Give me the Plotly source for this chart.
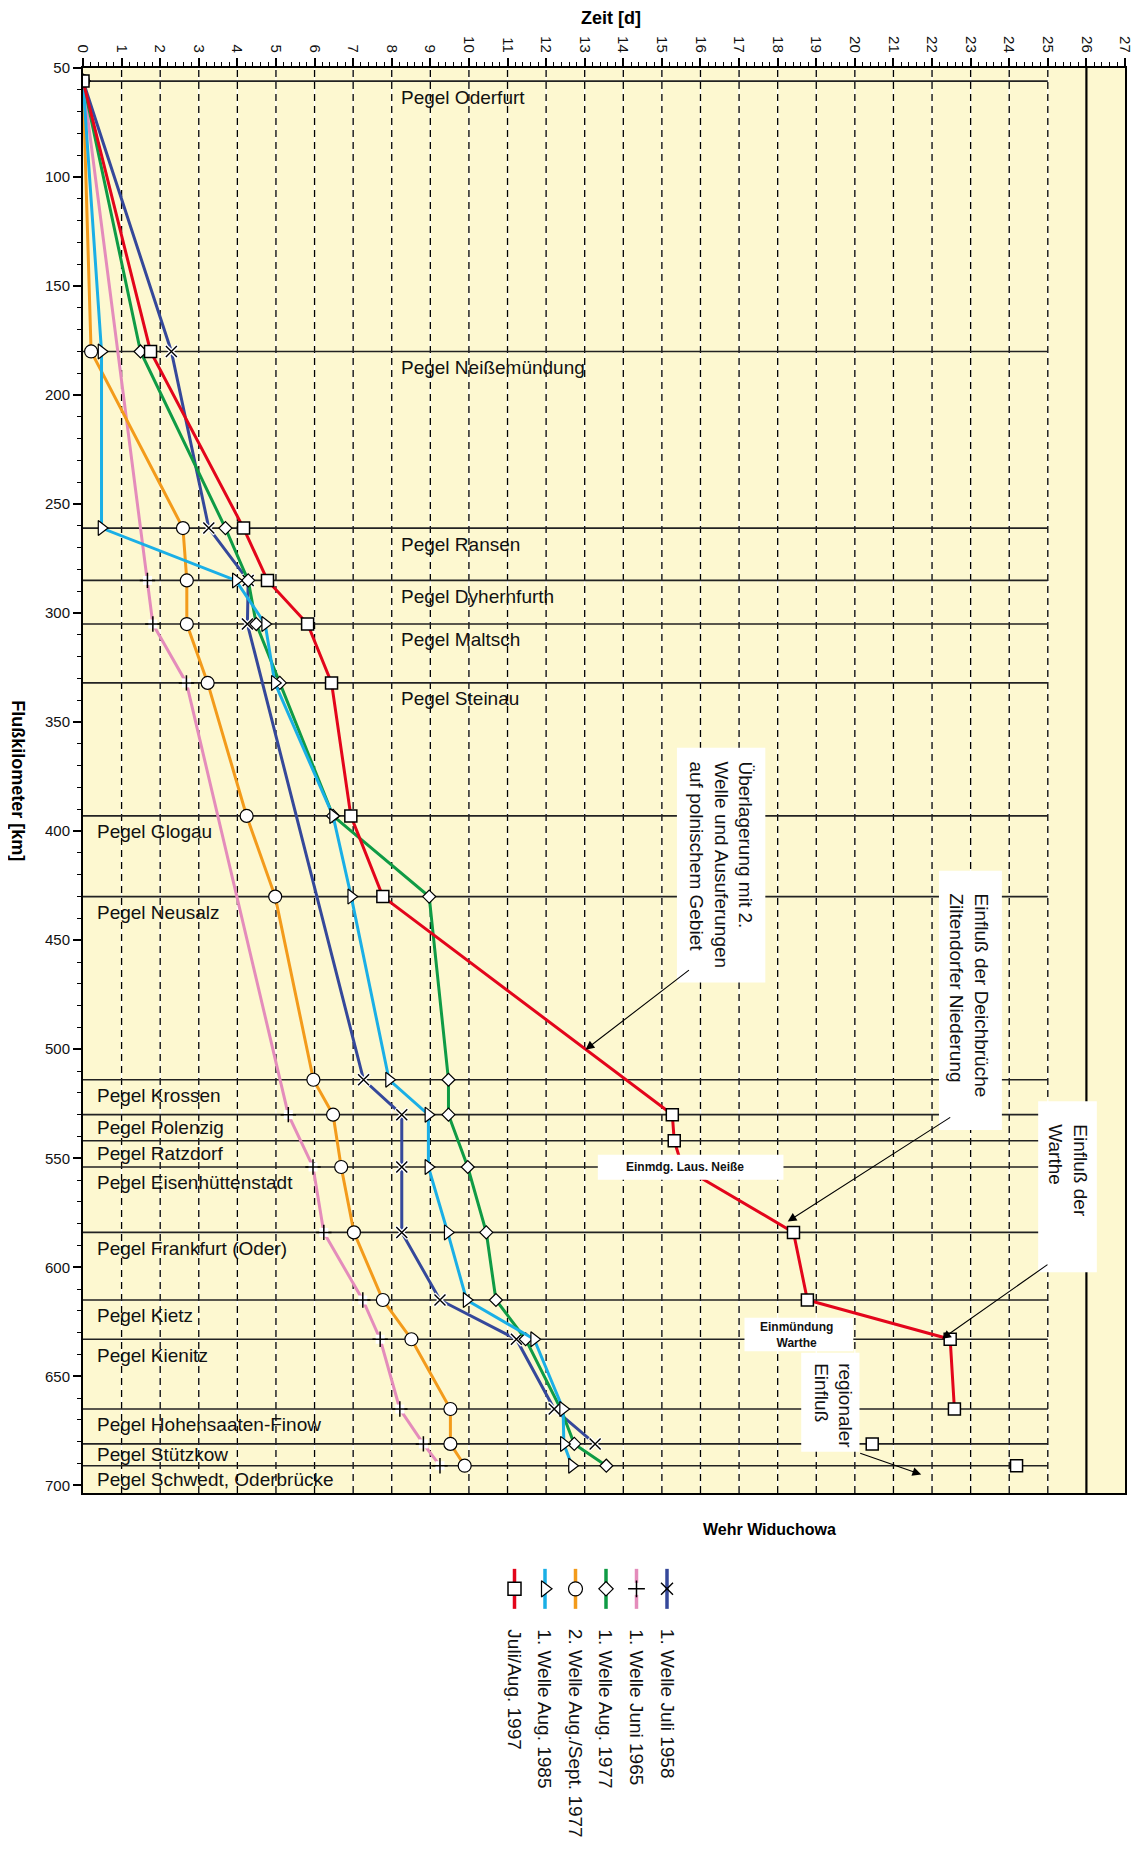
import plotly.graph_objects as go

# ---------------- data ----------------
pegel_names = ["Pegel Oderfurt", "Pegel Neißemündung", "Pegel Ransen", "Pegel Dyhernfurth",
               "Pegel Maltsch", "Pegel Steinau", "Pegel Glogau", "Pegel Neusalz",
               "Pegel Krossen", "Pegel Polenzig", "Pegel Ratzdorf", "Pegel Eisenhüttenstadt",
               "Pegel Frankfurt (Oder)", "Pegel Kietz", "Pegel Kienitz",
               "Pegel Hohensaaten-Finow", "Pegel Stützkow", "Pegel Schwedt, Oderbrücke"]
pegel_km = [56, 180, 261, 285, 305, 332, 393, 430, 514, 530, 542, 554, 584, 615, 633, 665, 681, 691]

series_names = ["1. Welle Juli 1958", "1. Welle Juni 1965", "1. Welle Aug. 1977",
                "2. Welle Aug./Sept. 1977", "1. Welle Aug. 1985", "Juli/Aug. 1997"]

km_1958 = [56, 180, 261, 285, 305, 514, 530, 554, 584, 615, 633, 665, 681]
t_1958 = [0, 2.29, 3.26, 4.28, 4.26, 7.27, 8.26, 8.26, 8.26, 9.25, 11.23, 12.21, 13.27]

km_1965 = [56, 285, 305, 332, 530, 554, 584, 615, 633, 665, 681, 691]
t_1965 = [0, 1.67, 1.81, 2.68, 5.32, 5.96, 6.24, 7.25, 7.70, 8.21, 8.82, 9.25]

km_1977a = [56, 180, 261, 285, 305, 332, 393, 430, 514, 530, 554, 584, 615, 633, 665, 681, 691]
t_1977a = [0, 1.49, 3.69, 4.28, 4.49, 5.10, 6.48, 8.97, 9.47, 9.47, 9.97, 10.45, 10.70, 11.47, 12.38, 12.73, 13.56]

km_1977b = [56, 180, 261, 285, 305, 332, 393, 430, 514, 530, 554, 584, 615, 633, 665, 681, 691]
t_1977b = [0, 0.21, 2.59, 2.69, 2.69, 3.23, 4.24, 4.98, 5.97, 6.48, 6.69, 7.02, 7.77, 8.51, 9.52, 9.52, 9.89]

km_1985 = [56, 180, 261, 285, 305, 332, 393, 430, 514, 530, 554, 584, 615, 633, 665, 681, 691]
t_1985 = [0, 0.48, 0.48, 3.96, 4.72, 4.97, 6.48, 6.95, 7.93, 8.95, 8.95, 9.45, 9.94, 11.69, 12.44, 12.46, 12.67]

km_1997 = [56, 180, 261, 285, 305, 332, 393, 430, 530, 542, 554, 584, 615, 633, 665, None, 681, None, 691]
t_1997 = [0, 1.75, 4.16, 4.78, 5.82, 6.44, 6.94, 7.77, 15.27, 15.32, 15.53, 18.41, 18.77, 22.47, 22.58, None, 20.45, None, 24.19]

x_ticks = list(range(0, 28))
y_ticks = list(range(50, 701, 50))

# ---------------- styles ----------------
FONT = "Liberation Sans, Arial, Helvetica, sans-serif"
BG = "#fdf8d0"
X_MAX = 27
Y_TOP, Y_BOT = 50, 703.5
GRID_END = 25
WEHR_DAY = 26
LABEL_OFFSET = 7.3

styles = [
    dict(color="#35489a", symbol="x-thin", size=11, fill="black", lw=1.4),
    dict(color="#e48cbb", symbol="cross-thin", size=11, fill="black", lw=1.5),
    dict(color="#0f9b45", symbol="diamond", size=10, fill="white", lw=1.2),
    dict(color="#f39b1b", symbol="circle", size=13, fill="white", lw=1.2),
    dict(color="#1aafe6", symbol="triangle-right", size=13, fill="white", lw=1.2),
    dict(color="#e3051b", symbol="square", size=12, fill="white", lw=1.5),
]
data = [(t_1958, km_1958), (t_1965, km_1965), (t_1977a, km_1977a),
        (t_1977b, km_1977b), (t_1985, km_1985), (t_1997, km_1997)]

fig = go.Figure()

for i, ((tx, ky), st) in enumerate(zip(data, styles)):
    if st["symbol"] in ("cross-thin", "x-thin"):
        fig.add_trace(go.Scatter(x=tx, y=ky, mode="lines", line=dict(color=st["color"], width=3),
                                 hoverinfo="skip"))
        if st["symbol"] == "cross-thin":
            fig.add_trace(go.Scatter(x=tx[1:], y=ky[1:], mode="markers",
                                     marker=dict(symbol="square", size=9, color="white",
                                                 line=dict(width=0)), hoverinfo="skip"))
        else:
            fig.add_trace(go.Scatter(x=tx[1:], y=ky[1:], mode="markers",
                                     marker=dict(symbol="x-thin", size=12,
                                                 line=dict(color="white", width=4)),
                                     hoverinfo="skip"))
        fig.add_trace(go.Scatter(x=tx, y=ky, mode="markers", name=series_names[i],
                                 marker=dict(symbol=st["symbol"], size=st["size"],
                                             line=dict(color="black", width=st["lw"]))))
    else:
        fig.add_trace(go.Scatter(
            x=tx, y=ky, mode="lines+markers", name=series_names[i], connectgaps=False,
            line=dict(color=st["color"], width=3),
            marker=dict(symbol=st["symbol"], size=st["size"], color=st["fill"],
                        line=dict(color="black", width=st["lw"]))))

# ---------------- legend (rotated, manual) ----------------
for i, (name, st) in enumerate(zip(series_names, styles)):
    lx = 584 - 30.5 * i
    fig.add_trace(go.Scatter(x=[lx, lx], y=[55, 95], mode="lines", xaxis="x2", yaxis="y2",
                             line=dict(color=st["color"], width=3.5), hoverinfo="skip"))
    if st["symbol"] == "cross-thin":
        fig.add_trace(go.Scatter(x=[lx], y=[75], mode="markers", xaxis="x2", yaxis="y2",
                                 marker=dict(symbol="square", size=12, color="white",
                                             line=dict(width=0)), hoverinfo="skip"))
    fig.add_trace(go.Scatter(x=[lx], y=[75], mode="markers", xaxis="x2", yaxis="y2",
                             marker=dict(symbol=st["symbol"], size=st["size"] + 1, color=st["fill"],
                                         line=dict(color="black", width=st["lw"])),
                             hoverinfo="skip"))

# ---------------- shapes ----------------
shapes = [dict(type="rect", xref="x domain", yref="y domain", x0=0, x1=1, y0=0, y1=1,
               fillcolor=BG, line=dict(width=0), layer="below")]
for d in x_ticks:
    if 1 <= d <= GRID_END:
        shapes.append(dict(type="line", xref="x", yref="y domain", x0=d, x1=d, y0=0, y1=1,
                           line=dict(color="white", width=1.2), layer="below"))
        shapes.append(dict(type="line", xref="x", yref="y domain", x0=d, x1=d, y0=0, y1=1,
                           line=dict(color="black", width=1.3, dash="7px,5px"), layer="below"))
for km in pegel_km:
    shapes.append(dict(type="line", xref="x", yref="y", x0=0, x1=GRID_END, y0=km, y1=km,
                       line=dict(color="#222222", width=1.6), layer="below"))
shapes.append(dict(type="line", xref="x", yref="y domain", x0=WEHR_DAY, x1=WEHR_DAY, y0=0, y1=1,
                   line=dict(color="black", width=2.2), layer="below"))

# white annotation boxes (day, km extents)
boxes = [
    (15.39, 17.68, 361.7, 469.4),
    (22.18, 23.81, 418.1, 537.0),
    (24.75, 26.27, 523.9, 602.3),
    (13.34, 18.15, 548.4, 559.9),
    (17.14, 19.96, 623.2, 638.5),
    (18.61, 20.12, 639.2, 684.6),
]
for x0, x1, y0, y1 in boxes:
    shapes.append(dict(type="rect", xref="x", yref="y", x0=x0, x1=x1, y0=y0, y1=y1,
                       fillcolor="white", line=dict(width=0), layer="above"))

# ---------------- annotations ----------------
ann = []
next_km = pegel_km[1:] + [Y_BOT]
for i, (name, km, nk) in enumerate(zip(pegel_names, pegel_km, next_km)):
    lx = 8.2 if i < 6 else 0.3
    ly = km + min(LABEL_OFFSET, (nk - km) / 2)
    ann.append(dict(x=lx, y=ly, xref="x", yref="y", text=name, showarrow=False,
                    xanchor="left", yanchor="middle", font=dict(size=19, color="#111")))

ann.append(dict(x=0.507, y=1.028, xref="paper", yref="paper", text="<b>Zeit [d]</b>",
                showarrow=False, xanchor="center", yanchor="middle",
                font=dict(size=18, color="black")))
ann.append(dict(x=-0.0625, y=377, xref="paper", yref="y", text="<b>Flußkilometer [km]</b>",
                showarrow=False, textangle=90, xanchor="center", yanchor="middle",
                font=dict(size=18, color="black")))
ann.append(dict(x=17.8 / X_MAX, y=0.181, xref="paper", yref="paper", text="<b>Wehr Widuchowa</b>",
                showarrow=False, xanchor="center", yanchor="middle",
                font=dict(size=16, color="black")))

# rotated box texts
rot_texts = [
    (16.53, 367.3, "Überlagerung mit 2.<br>Welle und Ausuferungen<br>auf polnischem Gebiet"),
    (22.96, 427.7, "Einfluß der Deichbrüche<br>Ziltendorfer Niederung"),
    (25.52, 533.7, "Einfluß der<br>Warthe"),
    (19.45, 643.1, "regionaler<br>Einfluß"),
]
for x, y, t in rot_texts:
    ann.append(dict(x=x, y=y, xref="x", yref="y", text=t, showarrow=False, textangle=90,
                    align="left", xanchor="center", yanchor="top",
                    font=dict(size=19, color="#111")))
ann.append(dict(x=15.6, y=554.1, xref="x", yref="y", text="<b>Einmdg. Laus. Neiße</b>",
                showarrow=False, font=dict(size=12, color="#111")))
ann.append(dict(x=18.48, y=630.9, xref="x", yref="y", text="<b>Einmündung<br>Warthe</b>",
                showarrow=False, align="center", font=dict(size=12, color="#111")))

# arrows (head x,y ; tail ax,ay)
arrows = [
    (13.02, 500.2, 15.74, 463.2),
    (18.26, 579.0, 22.51, 530.8),
    (22.26, 632.8, 25.03, 598.3),
    (21.72, 695.0, 20.10, 685.0),
]
for x, y, axv, ayv in arrows:
    ann.append(dict(x=x, y=y, ax=axv, ay=ayv, xref="x", yref="y", axref="x", ayref="y",
                    text="", showarrow=True, arrowhead=2, arrowsize=1.6, arrowwidth=1.1,
                    arrowcolor="black", standoff=0))

# legend texts
for i, name in enumerate(series_names):
    lx = 584 - 30.5 * i
    ann.append(dict(x=lx, y=113, xref="x2", yref="y2", text=name, showarrow=False,
                    textangle=90, xanchor="center", yanchor="top",
                    font=dict(size=19, color="#111")))

fig.update_layout(
    width=1136, height=1850,
    margin=dict(l=75, r=19, t=60, b=5, autoexpand=False),
    paper_bgcolor="white", plot_bgcolor="white",
    showlegend=False,
    font=dict(family=FONT, color="#111"),
    shapes=shapes, annotations=ann,
    xaxis=dict(range=[0, X_MAX], side="top", domain=[0, 1], anchor="y",
               tickmode="array", tickvals=x_ticks, ticktext=[str(v) for v in x_ticks],
               tickangle=90, ticks="outside", ticklen=8, tickwidth=1.5, tickcolor="black",
               showline=True, linewidth=2, linecolor="black", mirror=True,
               showgrid=False, zeroline=False, tickfont=dict(size=15, color="#111"),
               automargin=False,
               minor=dict(tickmode="linear", tick0=0, dtick=0.2, ticks="outside", ticklen=4,
                          tickcolor="black", tickwidth=1, showgrid=False)),
    yaxis=dict(range=[Y_BOT, Y_TOP], domain=[0.2017, 1], anchor="x",
               tickmode="array", tickvals=y_ticks, ticktext=[str(v) for v in y_ticks],
               ticks="outside", ticklen=8, tickwidth=1.5, tickcolor="black",
               showline=True, linewidth=2, linecolor="black", mirror=True,
               showgrid=False, zeroline=False, tickfont=dict(size=15, color="#111"),
               automargin=False,
               minor=dict(tickmode="linear", tick0=50, dtick=10, ticks="outside", ticklen=4,
                          tickcolor="black", tickwidth=1, showgrid=False)),
    xaxis2=dict(domain=[0, 1], range=[0, 1042], anchor="y2", visible=False),
    yaxis2=dict(domain=[0, 0.19], range=[339.15, 0], anchor="x2", visible=False),
)

fig.write_html("out.html")
